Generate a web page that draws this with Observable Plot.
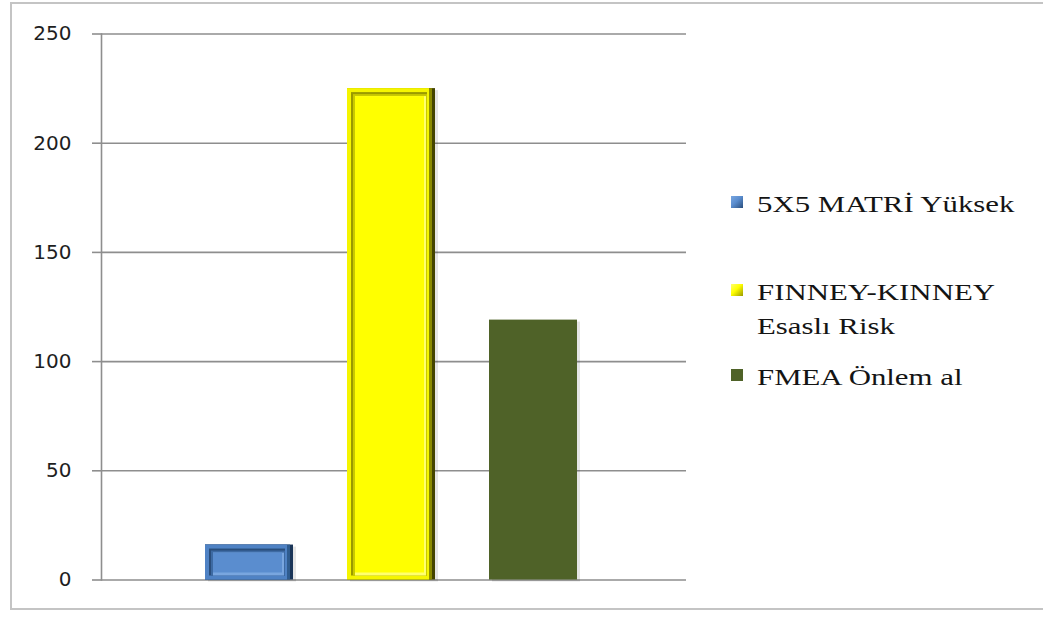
<!DOCTYPE html>
<html>
<head>
<meta charset="utf-8">
<script src="https://cdn.jsdelivr.net/npm/d3@7"></script>
<script src="https://cdn.jsdelivr.net/npm/@observablehq/plot@0.6"></script>
<style>
  html, body { margin: 0; padding: 0; background: #fff; }
  #wrap { position: relative; width: 1043px; height: 617px; overflow: hidden; background: #fff; }
  #border { position: absolute; left: 10px; top: 2px; width: 1060px; height: 608px; border: 2px solid #c4c4c4; box-sizing: border-box; }
  #chart { position: absolute; left: 0; top: 0; }
  .lg { position: absolute; left: 731px; font-family: "Liberation Serif", "Times New Roman", serif; font-size: 23px; line-height: 34px; color: #141414; }
  .lg .sw { position: absolute; left: 0; width: 12px; height: 12px; }
  .lg .tx { position: absolute; left: 26px; top: 0; white-space: nowrap; transform: scaleX(1.34); transform-origin: left top; }
</style>
</head>
<body>
<div id="wrap">
  <div id="border"></div>
  <div id="chart"></div>
</div>
<script>
// ---- data ----
const series = ["5X5 MATRİ Yüksek", "FINNEY-KINNEY Esaslı Risk", "FMEA Önlem al"];
const legendLines = [["5X5 MATRİ Yüksek"], ["FINNEY-KINNEY", "Esaslı Risk"], ["FMEA Önlem al"]];
const values = [16, 225, 119];
const yTicks = [0, 50, 100, 150, 200, 250];

// ---- styles ----
const faceColors = ["#5a8dcf", "#ffff00", "#4f6228"];
const rimColors = ["#4f82c4", "#f5f500", "#4f6228"];
const midDarkColors = ["#2f5c8f", "#8a8a00", "#4f6228"];
const grooveColors = ["#2a4e7c", "#9a9a00", "#4f6228"];
const grooveLightColors = ["#3d6aa3", "#c9c900", "#4f6228"];
const shadeColors = ["#1a3558", "#444400", "#3f4f20"];
const highlightColors = ["#79a6df", "#ffff70", "#4f6228"];
const legendTops = [188, 276, 361];

const data = series.map((s, i) => ({s, v: values[i], i}));
const bevel = data.filter(d => d.i < 2);
const plain = data.filter(d => d.i >= 2);

const chart = Plot.plot({
  width: 1043,
  height: 617,
  marginLeft: 101,
  marginRight: 357,
  marginTop: 33.5,
  marginBottom: 37.5,
  style: {background: "transparent", overflow: "visible"},
  x: {type: "band", domain: series, range: [177, 604.5], paddingInner: 0.38, paddingOuter: 0.19, axis: null},
  y: {domain: [0, 250], ticks: yTicks, axis: null},
  marks: [
    Plot.ruleY(yTicks, {stroke: "#8e8e8e", strokeWidth: 1.6}),
    Plot.frame({anchor: "left", stroke: "#8e8e8e", strokeWidth: 1.6}),
    Plot.axisY({ticks: yTicks, tickSize: 9, tickPadding: 21, fontSize: 20, fontFamily: "DejaVu Sans, Verdana, sans-serif", fill: "#1e1e1e", stroke: "#8e8e8e", strokeWidth: 1.6, label: null}),
    // soft shadow
    Plot.barY(data, {x: "s", y: "v", fill: "#000", fillOpacity: 0.10, dx: 3, dy: 2}),
    // plain bar
    Plot.barY(plain, {x: "s", y: "v", fill: d => faceColors[d.i]}),
    // bevelled bars: dark right edge
    Plot.barY(bevel, {x: "s", y: "v", fill: d => shadeColors[d.i]}),
    Plot.barY(bevel, {x: "s", y: "v", fill: d => midDarkColors[d.i], insetRight: 3}),
    // outer rim
    Plot.barY(bevel, {x: "s", y: "v", fill: d => rimColors[d.i], insetRight: 6}),
    // bevel groove
    Plot.barY(bevel, {x: "s", y: "v", fill: d => grooveColors[d.i], insetLeft: 4, insetTop: 4, insetRight: 8, insetBottom: 4}),
    Plot.barY(bevel, {x: "s", y: "v", fill: d => grooveLightColors[d.i], insetLeft: 6, insetTop: 6, insetRight: 8, insetBottom: 4}),
    // highlight
    Plot.barY(bevel, {x: "s", y: "v", fill: d => highlightColors[d.i], insetLeft: 8, insetTop: 8, insetRight: 9, insetBottom: 4}),
    // face
    Plot.barY(bevel, {x: "s", y: "v", fill: d => faceColors[d.i], insetLeft: 8, insetTop: 8, insetRight: 11, insetBottom: 7})
  ]
});
document.getElementById("chart").appendChild(chart);

// ---- legend ----
const wrap = document.getElementById("wrap");
series.forEach((s, i) => {
  const el = document.createElement("div");
  el.className = "lg";
  el.style.top = legendTops[i] + "px";
  const sw = document.createElement("div");
  sw.className = "sw";
  sw.style.top = "8px";
  sw.style.background = i < 2
    ? `linear-gradient(135deg, ${highlightColors[i]} 0%, ${faceColors[i]} 45%, ${grooveColors[i]} 100%)`
    : faceColors[i];
  el.appendChild(sw);
  const tx = document.createElement("div");
  tx.className = "tx";
  tx.innerHTML = legendLines[i].join("<br>");
  el.appendChild(tx);
  wrap.appendChild(el);
});
</script>
</body>
</html>
